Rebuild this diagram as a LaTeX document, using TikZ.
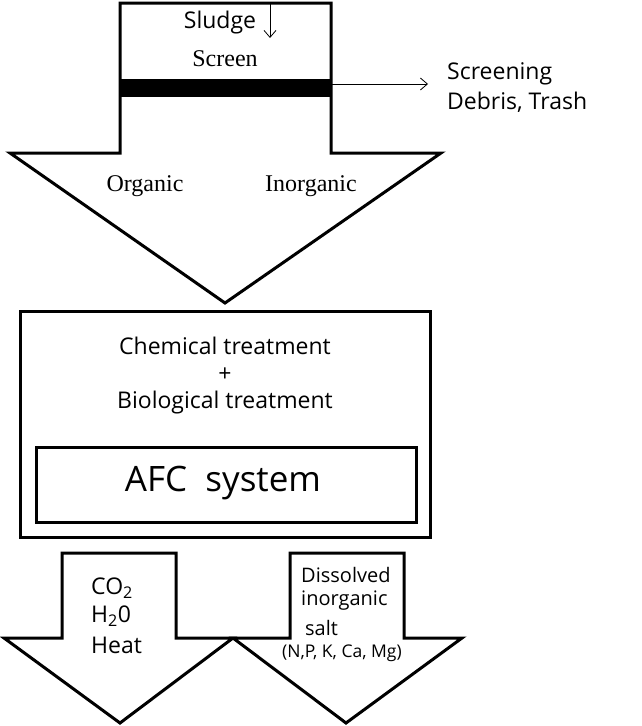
\documentclass[tikz,border=0pt]{standalone}
\usepackage{fontspec}
\setmainfont{Liberation Serif}
\newfontfamily\sansf{Open Sans}
\usetikzlibrary{arrows.meta}
\begin{document}
\begin{tikzpicture}[x=1pt,y=-1pt,
  shapeline/.style={draw=black,line width=3pt,line join=miter,fill=white},
  thinarrow/.style={draw=black,line width=0.8pt,-{Straight Barb[length=7pt,width=12pt]}},
  sanslabel/.style={font=\sansf\fontsize{23}{26}\selectfont,inner sep=0pt},
  smallsans/.style={font=\sansf\fontsize{20}{24}\selectfont,inner sep=0pt},
  seriflabel/.style={font=\fontsize{24}{28}\selectfont,inner sep=0pt}]
\useasboundingbox (0,0) rectangle (641,726);
% top arrow
\draw[shapeline] (120,3) -- (331,3) -- (331,153) -- (441,153) -- (225,303) -- (10,153) -- (120,153) -- cycle;
\fill[black] (120,79) rectangle (331,97);
\node[sanslabel] (sludge) at (220,23) {Sludge};
\node[seriflabel] (screen) at (225,59) {Screen};
\coordinate (sludgeA) at (270,3);
\coordinate (sludgeB) at (270,38);
\draw[thinarrow] (sludgeA) -- (sludgeB);
\coordinate (scrA) at (332,84);
\coordinate (scrB) at (428,84);
\draw[thinarrow] (scrA) -- (scrB);
\node[sanslabel,anchor=west] (screening) at (447,74) {Screening};
\node[sanslabel,anchor=west] (debris) at (447,102) {Debris, Trash};
\node[seriflabel] (organic) at (145,186) {Organic};
\node[seriflabel] (inorganic) at (311,186) {Inorganic};
% main box
\draw[shapeline] (20,311) rectangle (430,537);
\node[sanslabel] (chem) at (225,346) {Chemical treatment};
\node[sanslabel] (plus) at (225,375) {+};
\node[sanslabel] (bio) at (225,403) {Biological treatment};
\draw[shapeline] (36,447) rectangle (416,522);
\node[font=\sansf\fontsize{35}{40}\selectfont,inner sep=0pt] (afc) at (223,483) {AFC\ \ system};
% bottom arrows
\draw[shapeline] (62,553) -- (176,553) -- (176,638) -- (233,638) -- (120,723) -- (4,638) -- (62,638) -- cycle;
\draw[shapeline] (290,553) -- (404,553) -- (404,638) -- (462,638) -- (346,723) -- (233,638) -- (290,638) -- cycle;
\node[sanslabel,anchor=west] (co2) at (91,588) {CO\textsubscript{2}};
\node[sanslabel,anchor=west] (h2o) at (91,616) {H\textsubscript{2}0};
\node[sanslabel,anchor=west] (heat) at (91,645) {Heat};
\node[smallsans,anchor=west] (diss) at (301,575) {Dissolved};
\node[smallsans,anchor=west] (inorg) at (301,601) {inorganic};
\node[smallsans,anchor=west] (salt) at (305,628) {salt};
\node[font=\sansf\fontsize{17.5}{21}\selectfont,inner sep=0pt] (npk) at (342,653) {(N,P, K, Ca, Mg)};
\end{tikzpicture}
\end{document}
